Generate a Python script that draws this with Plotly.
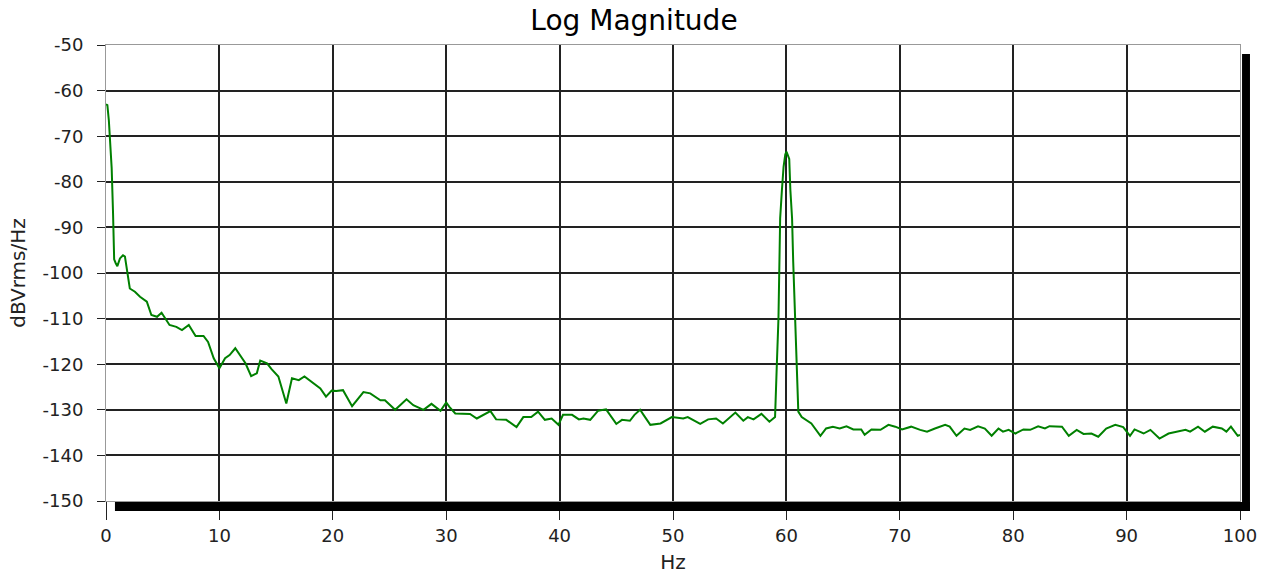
import plotly.graph_objects as go

# Frequency (Hz) and magnitude (dBVrms/Hz)
freq = [0, 0.12, 0.25, 0.37, 0.5, 0.62, 0.72, 0.85, 1.0, 1.23, 1.5, 1.67, 2.1, 2.55, 3.0, 3.6,
        4.0, 4.5, 4.9, 5.6, 6.2, 6.7, 7.3, 7.9, 8.6, 9.0, 9.5, 10.0, 10.5, 10.9, 11.4, 12.3,
        12.8, 13.3, 13.6, 14.2, 14.6, 15.2, 15.9, 16.4, 17.0, 17.5, 18.3, 18.9, 19.4, 19.9,
        20.3, 20.9, 21.7, 22.7, 23.3, 24.2, 24.6, 25.5, 26.5, 27.1, 28.0, 28.7, 29.5, 30.0,
        30.3, 30.8, 32.1, 32.7, 33.9, 34.4, 35.3, 36.2, 36.8, 37.5, 38.1, 38.7, 39.3, 39.9,
        40.3, 41.1, 41.7, 42.1, 42.7, 43.4, 44.1, 45.0, 45.5, 46.2, 46.6, 47.1, 47.4, 48.0,
        48.9, 49.9, 50.9, 51.3, 52.4, 53.1, 53.8, 54.4, 55.5, 56.2, 56.6, 57.1, 57.8, 58.5,
        59.0, 59.1, 59.15, 59.3, 59.45, 59.6, 59.75, 59.9, 60.0, 60.1, 60.25, 60.35, 60.5,
        60.6, 60.75, 60.9, 61.05, 61.35, 62.2, 63.0, 63.5, 64.1, 64.7, 65.3, 65.9, 66.6,
        66.9, 67.5, 68.3, 69.0, 69.6, 70.2, 71.0, 71.8, 72.4, 73.1, 74.0, 74.4, 75.0, 75.7,
        76.2, 76.9, 77.5, 78.1, 78.7, 79.1, 79.6, 80.2, 80.9, 81.5, 82.2, 82.8, 83.2, 84.3,
        84.9, 85.6, 86.2, 86.9, 87.5, 88.2, 89.0, 89.7, 90.3, 90.7, 91.5, 92.1, 92.9, 93.7,
        94.6, 95.2, 95.6, 96.3, 96.9, 97.6, 98.4, 98.8, 99.2, 99.8, 100.0]

mag = [-63.0, -63.2, -66.5, -71.6, -77.0, -86.8, -97.0, -97.8, -98.5, -96.8, -96.1, -96.4,
       -103.4, -104.1, -105.2, -106.3, -109.2, -109.6, -108.7, -111.4, -111.8, -112.5, -111.4,
       -113.8, -113.8, -115.1, -118.7, -120.9, -118.7, -118.0, -116.5, -119.8, -122.6, -122.0,
       -119.2, -119.8, -121.1, -122.7, -128.6, -123.1, -123.5, -122.7, -124.2, -125.3, -127.1,
       -125.8, -125.9, -125.7, -129.2, -126.1, -126.4, -127.9, -127.9, -130.0, -127.7, -129.0,
       -130.0, -128.7, -130.2, -128.4, -129.4, -130.8, -130.9, -131.9, -130.3, -132.1, -132.2,
       -133.8, -131.6, -131.6, -130.4, -132.2, -131.9, -133.3, -131.1, -131.1, -132.1, -131.9,
       -132.2, -130.2, -129.9, -133.1, -132.2, -132.4, -131.1, -130.0, -131.1, -133.3, -133.0,
       -131.6, -131.9, -131.6, -133.1, -132.1, -131.9, -133.0, -130.6, -132.4, -131.6, -132.1,
       -130.9, -132.6, -131.6, -126.0, -120.5, -110.0, -88.0, -82.0, -76.7, -74.0, -73.4,
       -74.0, -75.0, -81.8, -88.0, -97.5, -108.5, -119.0, -130.4, -131.6, -133.0, -135.7,
       -134.1, -133.7, -134.1, -133.6, -134.3, -134.3, -135.5, -134.3, -134.4, -133.3, -133.7,
       -134.3, -133.7, -134.4, -134.8, -134.1, -133.3, -133.7, -135.7, -134.1, -134.4, -133.6,
       -134.1, -135.7, -134.1, -134.8, -134.4, -135.2, -134.3, -134.4, -133.6, -134.1, -133.6,
       -133.7, -135.7, -134.4, -135.3, -135.2, -135.9, -134.1, -133.3, -133.8, -135.7, -134.3,
       -135.2, -134.4, -136.3, -135.2, -134.8, -134.4, -134.8, -133.7, -134.8, -133.7, -134.1,
       -134.8, -133.7, -135.7, -135.5]

x_ticks = list(range(0, 101, 10))
y_ticks = list(range(-150, -49, 10))

FONT = "DejaVu Sans, Verdana, sans-serif"

fig = go.Figure()
fig.add_trace(go.Scatter(x=freq, y=mag, mode="lines",
                         line=dict(color="#008000", width=2), showlegend=False,
                         hoverinfo="skip"))

fig.update_layout(
    width=1268, height=576,
    margin=dict(l=106, r=28, t=45, b=75, autoexpand=False),
    paper_bgcolor="white", plot_bgcolor="white",
    title=dict(text="Log Magnitude", x=0.5, xanchor="center", y=0.9653, yanchor="middle",
               font=dict(family=FONT, size=28, color="#000")),
    font=dict(family=FONT, size=18, color="#222"),
    xaxis=dict(range=[0, 100], tickvals=x_ticks, ticktext=[str(v) for v in x_ticks],
               automargin=False,
               showgrid=True, gridcolor="#222", gridwidth=1.5, zeroline=False,
               ticks="outside", ticklen=18, tickcolor="#222", tickwidth=1,
               ticklabelstandoff=0,
               showline=True, linecolor="#999", linewidth=1, mirror=True,
               title=dict(text="Hz", font=dict(family=FONT, size=20, color="#222"), standoff=10),
               tickfont=dict(family=FONT, size=18, color="#222")),
    yaxis=dict(range=[-150, -50], tickvals=y_ticks, ticktext=[str(v) for v in y_ticks],
               automargin=False,
               showgrid=True, gridcolor="#222", gridwidth=1.5, zeroline=False,
               ticks="outside", ticklen=8, tickcolor="#222", tickwidth=1,
               ticklabelstandoff=10,
               showline=True, linecolor="#999", linewidth=1, mirror=True,
               title=dict(text="dBVrms/Hz", font=dict(family=FONT, size=20, color="#222"), standoff=11),
               tickfont=dict(family=FONT, size=18, color="#222")),
)

# drop shadow (right and bottom)
fig.add_shape(type="rect", xref="paper", yref="paper",
              x0=1.0018, x1=1.0088, y0=-0.0219, y1=0.980,
              fillcolor="black", line=dict(width=0), layer="above")
fig.add_shape(type="rect", xref="paper", yref="paper",
              x0=0.0079, x1=1.0088, y0=-0.0219, y1=-0.0022,
              fillcolor="black", line=dict(width=0), layer="above")

fig.write_html("out.html", config={"displayModeBar": False},
               post_script="document.body.style.margin='0px';")
